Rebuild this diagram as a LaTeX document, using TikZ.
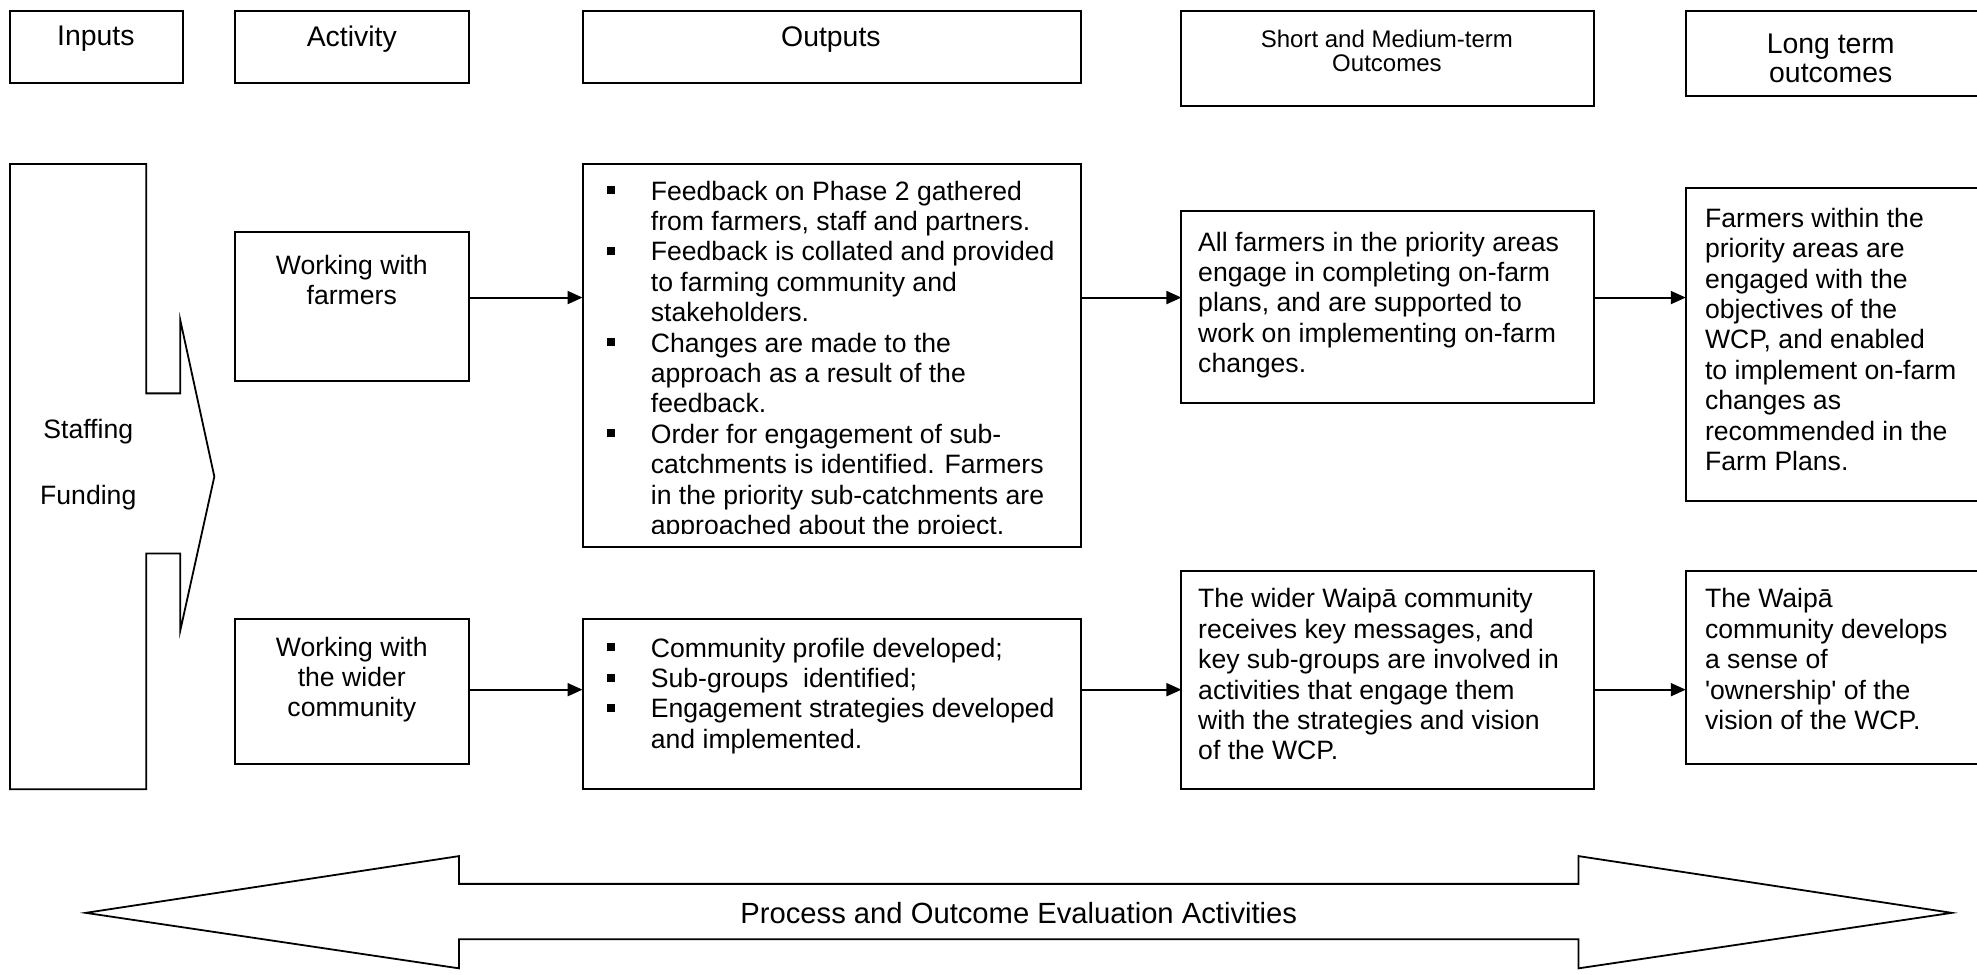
\documentclass[tikz,border=0pt]{standalone}
\usepackage{fontspec}
\setmainfont{Liberation Sans}[Ligatures=TeXOff]
\usetikzlibrary{arrows.meta}
\newcommand{\boxnode}[5]{\node[boxst, minimum width={(#4-#2)*0.6304pt}, minimum height={(#5-#3)*0.6304pt}] (#1) at ({(#2+#4)/2},{(#3+#5)/2}) {};}
\newcommand{\sqb}{\makebox[22pt][l]{\raisebox{0.22em}{\rule{4pt}{4pt}}}}
\newcommand{\ind}{\hspace*{22pt}}
\begin{document}
\begin{tikzpicture}[x=0.6304pt, y=-0.6304pt,
  boxst/.style={draw, line width=1pt, inner sep=0, outer sep=0},
  body/.style={inner sep=0, align=left, anchor=north west, font=\fontsize{13.3}{15.2}\selectfont},
  head/.style={inner sep=0, align=center, font=\fontsize{14.2}{14.5}\selectfont},
  mid/.style={inner sep=0, align=center, font=\fontsize{13.3}{15.2}\selectfont},
  arr/.style={line width=1pt, -{Triangle[length=7.5pt,width=6.5pt]}},
  big/.style={draw, line width=0.9pt, line join=miter}]
\clip (0,0) rectangle (1568,773);
\fill[white] (0,0) rectangle (1568,773);
% header boxes
\boxnode{hIn}{8}{9}{145}{66}
\boxnode{hAct}{186}{9}{372}{66}
\boxnode{hOut}{462}{9}{857}{66}
\boxnode{hShort}{937}{9}{1264}{84}
\boxnode{hLong}{1337}{9}{1600}{76}
\node[head] (tIn) at (76,31) {Inputs};
\node[head] (tAct) at (279,31) {Activity};
\node[head] (tOut) at (659,31) {Outputs};
\node[head, font=\fontsize{12}{12}\selectfont] (tShort) at (1100,40) {Short and Medium-term\\Outcomes};
\node[head] (tLong) at (1452,46.5) {Long term\\outcomes};
% inputs shape
\draw[big] (8,130) -- (116,130) -- (116,312) -- (143,312) -- (143,254) -- (170,378)
  -- (143,500) -- (143,439) -- (116,439) -- (116,626) -- (8,626) -- cycle;
\node[mid] (tStaff) at (70,368.5) {Staffing\\[17.5pt]Funding};
% activity boxes
\boxnode{aF}{186}{184}{372}{302}
\boxnode{aC}{186}{491}{372}{606}
\node[mid] (taF) at (279,222) {Working with\\farmers};
\node[mid] (taC) at (279,539) {Working with\\the wider\\community};
% outputs boxes
\boxnode{oT}{462}{130}{857}{434}
\boxnode{oB}{462}{491}{857}{626}
\begin{scope}
\clip (462,130) rectangle (857,423.5);
\node[body] (toT) at (481,141.5) {\strut\sqb Feedback on Phase 2 gathered\\
\ind from farmers, staff and partners.\\
\sqb Feedback is collated and provided\\
\ind to farming community and\\
\ind stakeholders.\\
\sqb Changes are made to the\\
\ind approach as a result of the\\
\ind feedback.\\
\sqb Order for engagement of sub-\\
\ind catchments is identified. Farmers\\
\ind in the priority sub-catchments are\\
\ind approached about the project.};
\end{scope}
\node[body] (toB) at (481,504) {\strut\sqb Community profile developed;\\
\sqb Sub-groups\ \ identified;\\
\sqb Engagement strategies developed\\
\ind and implemented.};
% short-term boxes
\boxnode{sT}{937}{167}{1264}{320}
\boxnode{sB}{937}{453}{1264}{626}
\node[body] (tsT) at (950,182) {\strut All farmers in the priority areas\\
engage in completing on-farm\\
plans, and are supported to\\
work on implementing on-farm\\
changes.};
\node[body] (tsB) at (950,465) {\strut The wider Waipā community\\
receives key messages, and\\
key sub-groups are involved in\\
activities that engage them\\
with the strategies and vision\\
of the WCP.};
% long-term boxes
\boxnode{lT}{1337}{149}{1600}{397}
\boxnode{lB}{1337}{453}{1600}{606}
\node[body] (tlT) at (1352,163) {\strut Farmers within the\\
priority areas are\\
engaged with the\\
objectives of the\\
WCP, and enabled\\
to implement on-farm\\
changes as\\
recommended in the\\
Farm Plans.};
\node[body] (tlB) at (1352,465) {\strut The Waipā\\
community develops\\
a sense of\\
\textquotesingle ownership\textquotesingle\ of the\\
vision of the WCP.};
% connectors
\coordinate (r1) at (0,236);
\coordinate (r2) at (0,547);
\draw[arr] (aF.east |- r1) -- (oT.west |- r1);
\draw[arr] (oT.east |- r1) -- (sT.west |- r1);
\draw[arr] (sT.east |- r1) -- (lT.west |- r1);
\draw[arr] (aC.east |- r2) -- (oB.west |- r2);
\draw[arr] (oB.east |- r2) -- (sB.west |- r2);
\draw[arr] (sB.east |- r2) -- (lB.west |- r2);
% evaluation double arrow
\draw[big] (68,724) -- (364,679) -- (364,701) -- (1252,701) -- (1252,679) -- (1548,724)
  -- (1252,768) -- (1252,745) -- (364,745) -- (364,768) -- cycle;
\node[head, font=\fontsize{14.6}{15.2}\selectfont] (tEval) at (808,724) {Process and Outcome Evaluation Activities};
\end{tikzpicture}
\end{document}
